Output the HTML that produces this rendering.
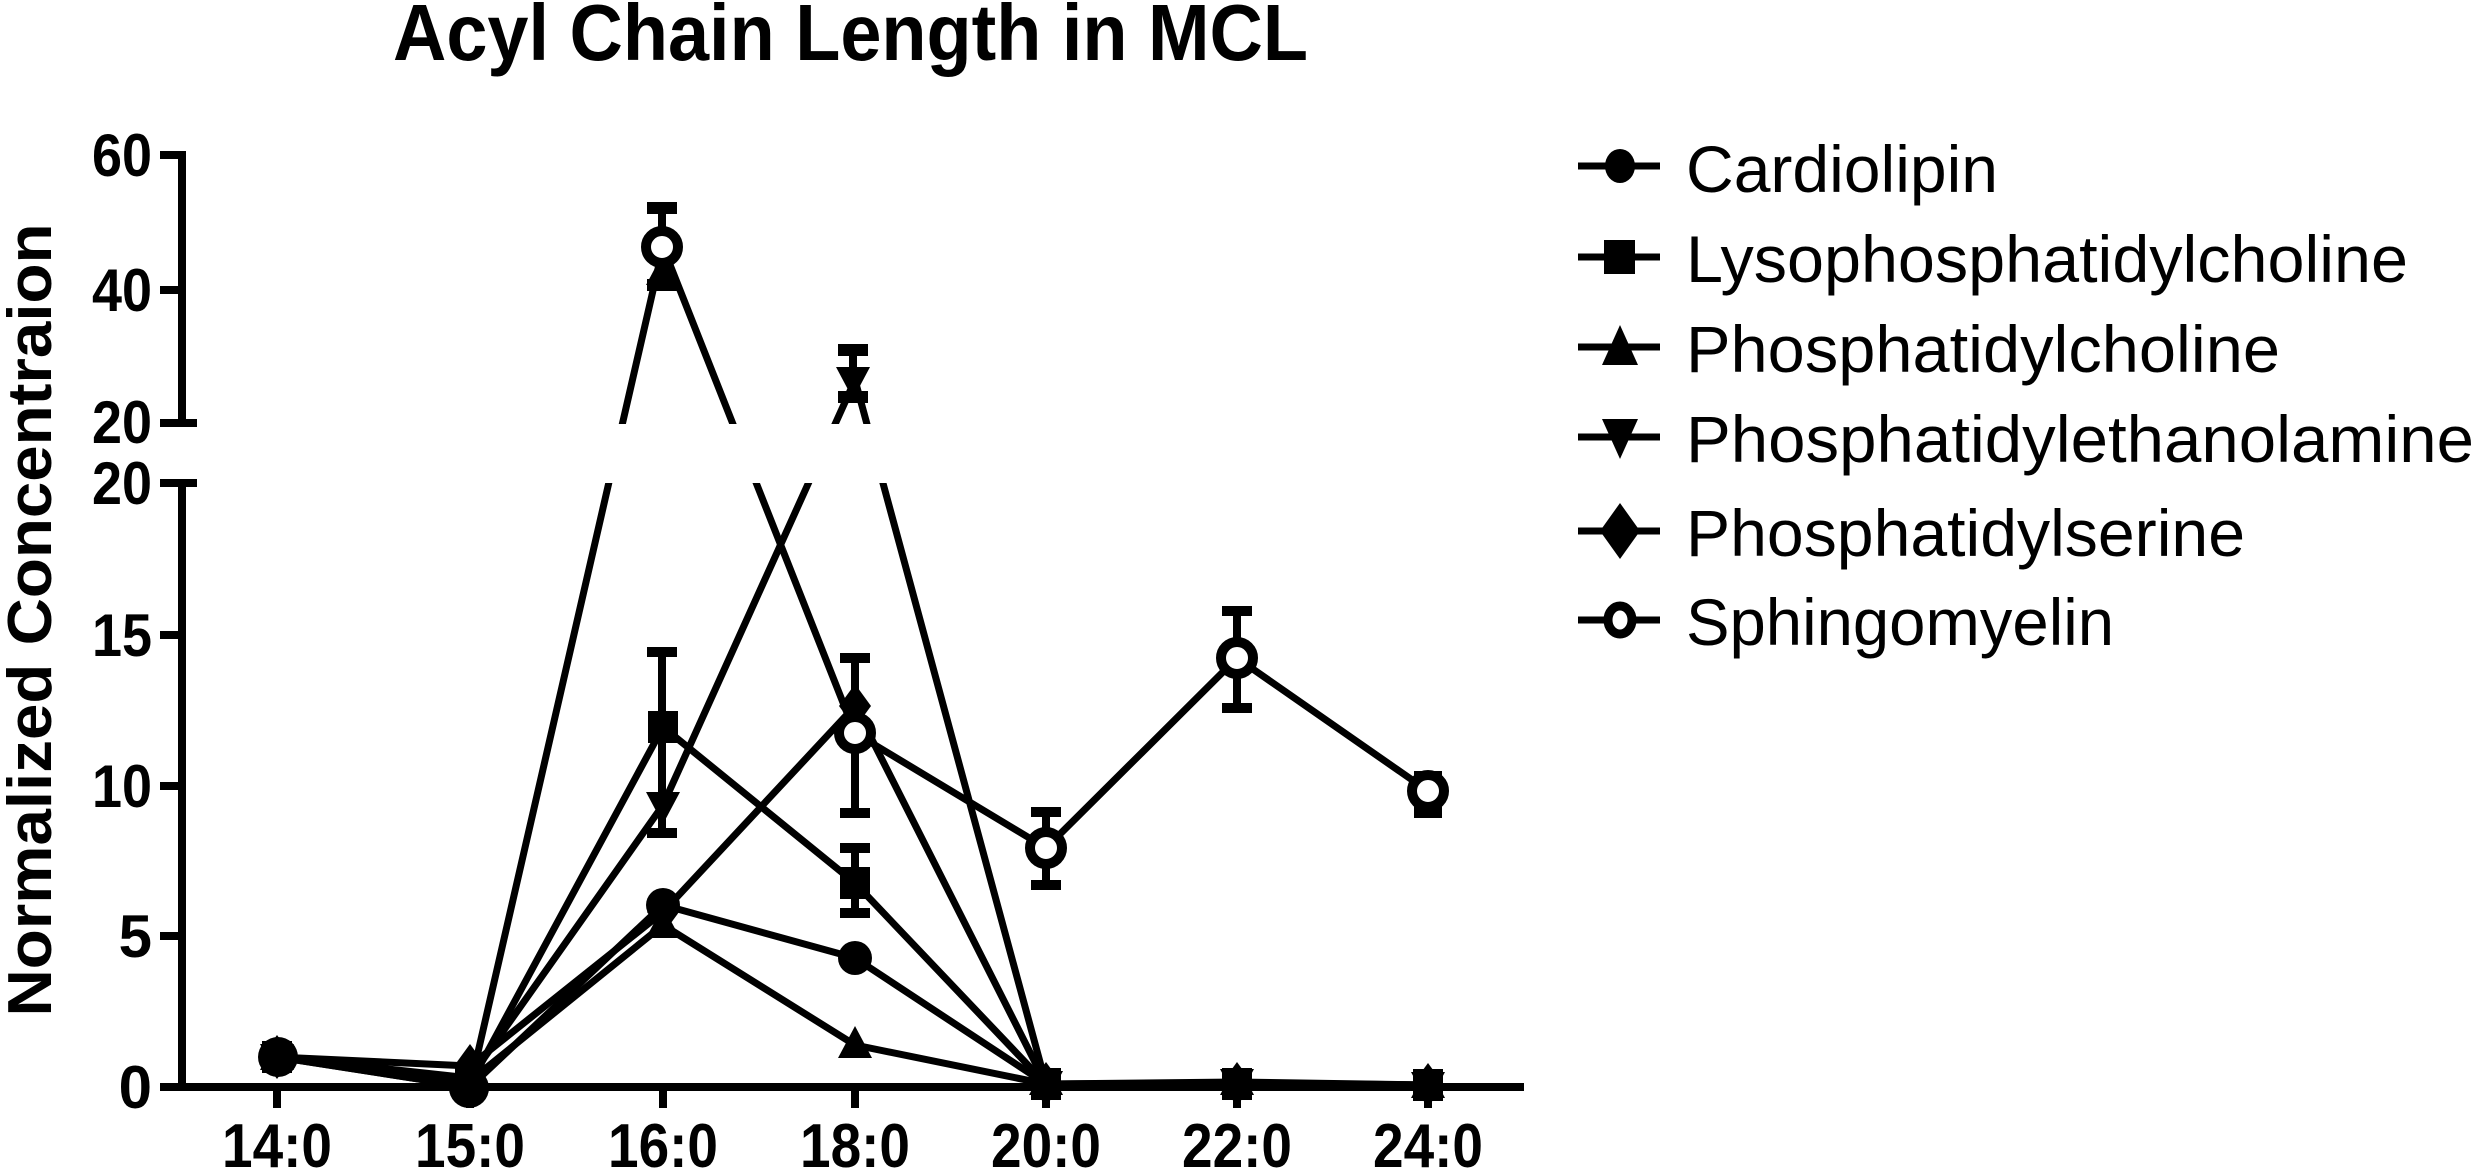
<!DOCTYPE html>
<html><head><meta charset="utf-8"><style>
html,body{margin:0;padding:0;background:#fff;}
svg{display:block;}
text{font-family:"Liberation Sans",Arial,sans-serif;fill:#000;}
.b{font-weight:bold;}
</style></head><body>
<svg width="2480" height="1168" viewBox="0 0 2480 1168" xmlns="http://www.w3.org/2000/svg">
<defs>
<clipPath id="cl"><path d="M180 0 H1540 V424 H180 Z M180 483 H1540 V1168 H180 Z"/></clipPath>
<g id="mCL"><circle r="17" fill="#000"/></g>
<g id="mLPC"><rect x="-15" y="-16" width="30" height="32" fill="#000"/></g>
<g id="mPC"><polygon points="0,-19 17,13 -17,13" fill="#000"/></g>
<g id="mPE"><polygon points="0,19 17,-13 -17,-13" fill="#000"/></g>
<g id="mPS"><polygon points="0,-22 16,0 0,22 -16,0" fill="#000"/></g>
<g id="mSM"><circle r="16" fill="#fff" stroke="#000" stroke-width="10"/></g>
</defs>

<text class="b" x="393" y="60" font-size="80" textLength="915" lengthAdjust="spacingAndGlyphs">Acyl Chain Length in MCL</text>

<text class="b" transform="translate(51,620) rotate(-90)" font-size="62" text-anchor="middle" textLength="793" lengthAdjust="spacingAndGlyphs">Normalized Concentraion</text>

<g stroke="#000" stroke-width="8" fill="none">
<line x1="182" y1="151" x2="182" y2="423"/>
<line x1="182" y1="483" x2="182" y2="1091"/>
<line x1="160" y1="155" x2="186" y2="155"/>
<line x1="160" y1="290" x2="186" y2="290"/>
<line x1="160" y1="423" x2="197" y2="423"/>
<line x1="160" y1="483" x2="197" y2="483"/>
<line x1="160" y1="635" x2="186" y2="635"/>
<line x1="160" y1="786" x2="186" y2="786"/>
<line x1="160" y1="936" x2="186" y2="936"/>
<line x1="160" y1="1087" x2="1524" y2="1087"/>
<line x1="277" y1="1087" x2="277" y2="1108"/>
<line x1="470" y1="1087" x2="470" y2="1108"/>
<line x1="663" y1="1087" x2="663" y2="1108"/>
<line x1="855" y1="1087" x2="855" y2="1108"/>
<line x1="1046" y1="1087" x2="1046" y2="1108"/>
<line x1="1237" y1="1087" x2="1237" y2="1108"/>
<line x1="1428" y1="1087" x2="1428" y2="1108"/>
</g>
<g class="b" font-size="60" text-anchor="end">
<text x="152" y="176" textLength="60" lengthAdjust="spacingAndGlyphs">60</text>
<text x="152" y="311" textLength="60" lengthAdjust="spacingAndGlyphs">40</text>
<text x="152" y="443" textLength="60" lengthAdjust="spacingAndGlyphs">20</text>
<text x="152" y="504" textLength="60" lengthAdjust="spacingAndGlyphs">20</text>
<text x="152" y="656" textLength="60" lengthAdjust="spacingAndGlyphs">15</text>
<text x="152" y="807" textLength="60" lengthAdjust="spacingAndGlyphs">10</text>
<text x="152" y="957">5</text>
<text x="152" y="1108">0</text>
</g>
<g class="b" font-size="62" text-anchor="middle">
<text x="277" y="1167" textLength="110" lengthAdjust="spacingAndGlyphs">14:0</text>
<text x="470" y="1167" textLength="110" lengthAdjust="spacingAndGlyphs">15:0</text>
<text x="663" y="1167" textLength="110" lengthAdjust="spacingAndGlyphs">16:0</text>
<text x="855" y="1167" textLength="110" lengthAdjust="spacingAndGlyphs">18:0</text>
<text x="1046" y="1167" textLength="110" lengthAdjust="spacingAndGlyphs">20:0</text>
<text x="1237" y="1167" textLength="110" lengthAdjust="spacingAndGlyphs">22:0</text>
<text x="1428" y="1167" textLength="110" lengthAdjust="spacingAndGlyphs">24:0</text>
</g>

<g clip-path="url(#cl)" stroke="#000" stroke-width="7" fill="none" stroke-linejoin="round">
<polyline points="277,1057 470,1087 663,905 855,958 1046,1084 1237,1084 1428,1085"/>
<polyline points="277,1057 470,1084 663,727 855,883 1046,1084 1237,1084 1428,1085"/>
<polyline points="277,1057 470,1081 663,925 855,1045 1046,1084 1237,1083 1428,1085"/>
<polyline points="277,1057 470,1078 663,805 855,380 1046,1084 1237,1082 1428,1085"/>
<polyline points="277,1057 470,1066 663,912 855,706 1046,1084 1237,1084 1428,1085"/>
<polyline points="277,1057 470,1087 663,247 855,733 1046,848 1237,658 1428,791"/>
</g>

<g stroke="#000" stroke-width="8" fill="none">
<line x1="662" y1="208" x2="662" y2="285"/><line x1="647" y1="208" x2="677" y2="208" stroke-width="12"/><line x1="647" y1="285" x2="677" y2="285" stroke-width="12"/>
<line x1="853" y1="350" x2="853" y2="397"/><line x1="838" y1="350" x2="868" y2="350" stroke-width="12"/><line x1="838" y1="397" x2="868" y2="397" stroke-width="12"/>
<line x1="662" y1="652" x2="662" y2="833"/><line x1="647" y1="652" x2="677" y2="652" stroke-width="10"/><line x1="647" y1="833" x2="677" y2="833" stroke-width="10"/>
<line x1="855" y1="658" x2="855" y2="813"/><line x1="840" y1="658" x2="870" y2="658" stroke-width="10"/><line x1="840" y1="813" x2="870" y2="813" stroke-width="10"/>
<line x1="855" y1="848" x2="855" y2="913"/><line x1="840" y1="848" x2="870" y2="848" stroke-width="10"/><line x1="840" y1="913" x2="870" y2="913" stroke-width="10"/>
<line x1="1046" y1="812" x2="1046" y2="885"/><line x1="1031" y1="812" x2="1061" y2="812" stroke-width="10"/><line x1="1031" y1="885" x2="1061" y2="885" stroke-width="10"/>
<line x1="1237" y1="611" x2="1237" y2="708"/><line x1="1222" y1="611" x2="1252" y2="611" stroke-width="10"/><line x1="1222" y1="708" x2="1252" y2="708" stroke-width="10"/>
<rect x="1414" y="771" width="28" height="47" fill="#000" stroke="none"/>
</g>

<g>
<use href="#mPS" x="277" y="1057"/><use href="#mPE" x="277" y="1057"/><use href="#mPC" x="277" y="1057"/><use href="#mLPC" x="277" y="1057"/><use href="#mCL" x="277" y="1057"/>
<circle cx="278" cy="1057" r="20" fill="#000"/>
<use href="#mPS" x="470" y="1066"/><use href="#mPE" x="470" y="1078"/><use href="#mPC" x="470" y="1081"/><use href="#mLPC" x="470" y="1084"/>
<circle cx="469" cy="1088" r="20" fill="#000"/>
<use href="#mLPC" x="663" y="727"/><use href="#mPE" x="663" y="805"/><use href="#mPS" x="663" y="912"/><use href="#mPC" x="663" y="925"/><use href="#mCL" x="663" y="905"/>
<polygon points="662,255 678,285 646,285" fill="#000"/>
<use href="#mSM" x="662" y="247"/>
<use href="#mPE" x="853" y="380"/><use href="#mPS" x="855" y="706"/><use href="#mSM" x="855" y="733"/><use href="#mLPC" x="855" y="883"/><use href="#mCL" x="855" y="958"/><use href="#mPC" x="855" y="1045"/>
<g><use href="#mLPC" x="1046" y="1084"/><use href="#mPE" x="1046" y="1084"/><use href="#mPC" x="1046" y="1082"/><use href="#mPS" x="1046" y="1084"/></g>
<g><use href="#mLPC" x="1237" y="1084"/><use href="#mPE" x="1237" y="1082"/><use href="#mPC" x="1237" y="1082"/><use href="#mPS" x="1237" y="1084"/></g>
<g><use href="#mLPC" x="1428" y="1085"/><use href="#mPE" x="1428" y="1085"/><use href="#mPC" x="1428" y="1085"/><use href="#mPS" x="1428" y="1085"/></g>
<use href="#mSM" x="1046" y="848"/><use href="#mSM" x="1237" y="658"/><use href="#mSM" x="1428" y="791"/>
</g>

<g stroke="#000" stroke-width="7">
<line x1="1578" y1="166" x2="1660" y2="166"/>
<line x1="1578" y1="257" x2="1660" y2="257"/>
<line x1="1578" y1="347" x2="1660" y2="347"/>
<line x1="1578" y1="437" x2="1660" y2="437"/>
<line x1="1578" y1="531" x2="1660" y2="531"/>
<line x1="1578" y1="620" x2="1660" y2="620"/>
</g>
<ellipse cx="1620" cy="166" rx="15" ry="17" fill="#000"/>
<rect x="1604" y="240" width="31" height="34" fill="#000"/>
<polygon points="1620,325 1638,365 1602,365" fill="#000"/>
<polygon points="1620,459 1638,419 1602,419" fill="#000"/>
<polygon points="1620,503 1640,531 1620,559 1600,531" fill="#000"/>
<ellipse cx="1620" cy="620" rx="12" ry="14" fill="#fff" stroke="#000" stroke-width="9"/>
<g font-size="66">
<text x="1686" y="192" textLength="312" lengthAdjust="spacingAndGlyphs">Cardiolipin</text>
<text x="1686" y="282" textLength="722" lengthAdjust="spacingAndGlyphs">Lysophosphatidylcholine</text>
<text x="1686" y="372" textLength="594" lengthAdjust="spacingAndGlyphs">Phosphatidylcholine</text>
<text x="1686" y="462" textLength="788" lengthAdjust="spacingAndGlyphs">Phosphatidylethanolamine</text>
<text x="1686" y="556" textLength="559" lengthAdjust="spacingAndGlyphs">Phosphatidylserine</text>
<text x="1686" y="645" textLength="428" lengthAdjust="spacingAndGlyphs">Sphingomyelin</text>
</g>
</svg>
</body></html>
